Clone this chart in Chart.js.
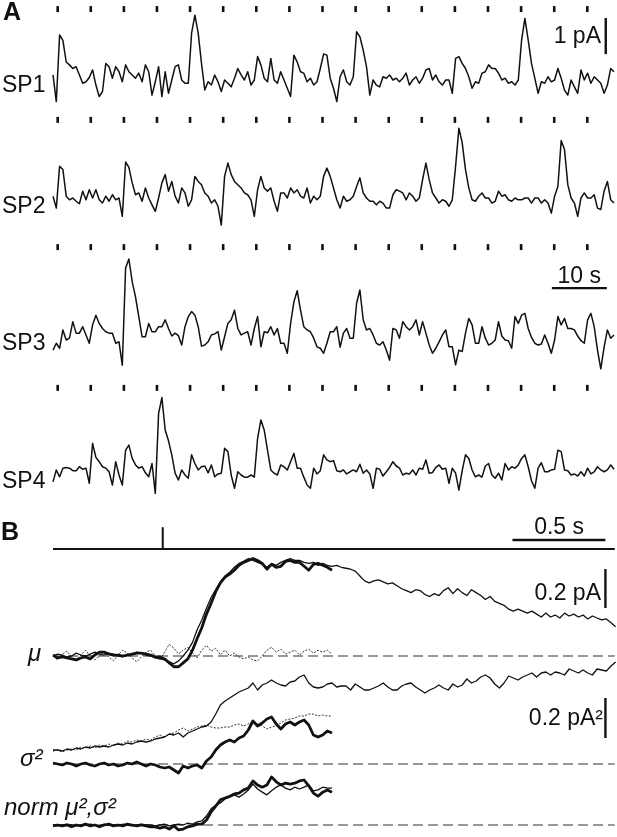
<!DOCTYPE html>
<html>
<head>
<meta charset="utf-8">
<script src="https://cdn.jsdelivr.net/npm/chart.js@4"></script>
<style>
  html, body { margin: 0; padding: 0; background: #fff; }
  #fig { position: relative; width: 617px; height: 837px; overflow: hidden; }
  #fig canvas { position: absolute; left: 0; top: 0; }
  .lbl { position: absolute; font-family: 'Liberation Sans', Arial, sans-serif; font-size: 23px; line-height: 1; color: #111; white-space: nowrap; }
  .panel { font-weight: bold; font-size: 25px; }
  .it { font-style: italic; font-size: 24px; }
</style>
</head>
<body>
<div id="fig">
  <canvas id="traces" width="617" height="837"></canvas>
</div>
<script>
// Panel A: spontaneous currents, sampled every 0.6 s (pA)
const dtA = 0.6;
const sp1 = [
  0.14, -0.6, 1.25, 1.1, 0.5, 0.42, 0.32, 0.37, 0.14, -0.09,
  -0.05, 0.07, 0.28, -0.14, -0.46, -0.32, 0.46, 0.37, 0.05, 0.37,
  0.23, -0.05, 0.42, 0.23, 0.14, 0.05, 0.19, -0.05, 0.42, 0.23,
  -0.42, -0.05, 0.37, -0.46, 0.23, -0.37, 0, 0.37, 0.42, 0,
  -0.09, -0.09, 1.3, 1.8, 1.3, 0.46, -0.28, -0.05, -0.14, 0.14,
  -0.05, -0.32, 0, -0.09, -0.19, 0.05, 0.32, 0.14, 0, 0.23,
  -0.14, 0, 0.65, 0.42, 0.05, -0.05, 0.6, 0, -0.09, 0.23,
  0, -0.23, -0.46, 0.69, 0.5, 0.23, 0.19, -0.05, 0.05, -0.14,
  -0.05, 0.32, 0.72, 0.69, 0.05, -0.23, -0.6, 0.09, 0.28, -0.05,
  -0.14, 0.09, 1.34, 1.2, 0.83, 0.37, -0.42, 0, -0.14, -0.19,
  0.09, 0.05, 0.14, 0, 0.05, -0.05, 0.05, 0.19, -0.14, 0,
  0.09, -0.09, 0.05, 0.28, 0.32, 0, 0.14, -0.05, -0.14, 0,
  0, -0.37, 0.6, 0.65, 0.46, 0.32, 0.09, -0.23, -0.05, -0.09,
  0.19, 0.23, 0.42, 0.32, 0.32, 0.19, 0, 0.05, -0.09, -0.05,
  -0.14, 0, 1.11, 1.71, 1.11, 0.46, 0.05, -0.37, -0.05, -0.09,
  0.09, -0.05, 0, 0.32, 0.05, -0.28, -0.42, 0, -0.19, -0.37,
  0.28, 0, 0.19, -0.09, 0.09, 0, -0.09, -0.37, -0.14, 0.32, 0.23
];
const sp2 = [
  0.05, -0.28, 0.88, 0.79, 0.05, -0.05, 0, -0.09, -0.16, 0.19,
  -0.05, 0.23, 0, 0.23, -0.05, -0.14, 0.05, -0.09, 0.09, -0.05,
  0, -0.51, 1.0, 0.85, 0.42, 0.09, 0.14, -0.09, 0.28, 0,
  -0.19, -0.37, 0, 0.42, 0.65, 0.19, 0.46, 0.05, -0.14, 0.28,
  0.14, -0.23, -0.05, 0.6, 0.46, 0.37, 0.14, 0.05, -0.14, -0.05,
  -0.23, -0.75, 0.6, 0.97, 0.65, 0.46, 0.37, 0.28, 0.14, 0.09,
  -0.05, -0.51, 0.23, 0.6, 0.28, 0.19, 0.28, -0.09, -0.37, 0.14,
  0.14, 0, 0.28, 0.14, 0.23, 0.05, 0, 0.28, -0.14, 0.05,
  -0.05, 0.05, 0.6, 0.83, 0.6, 0.28, -0.05, -0.28, 0.05, -0.09,
  -0.05, 0.05, 0.32, 0.56, 0.14, 0, -0.09, -0.09, -0.19, -0.09,
  -0.14, -0.28, -0.28, 0.09, 0.23, 0.19, 0.14, -0.05, 0.14, 0.05,
  -0.09, 0, 0.51, 0.97, 0.51, 0.14, 0, -0.14, -0.05, -0.09,
  -0.23, -0.05, 0.88, 1.94, 1.53, 0.79, 0.28, -0.05, -0.09, 0.05,
  0.14, 0, 0, -0.14, -0.09, 0.19, 0.05, 0.09, -0.05, -0.09,
  0, -0.05, -0.05, 0, 0, -0.14, 0, 0, -0.14, -0.05,
  -0.14, -0.42, 0.05, 0.32, 1.6, 1.35, 0.37, 0, -0.14, -0.51,
  0, 0.14, 0, 0, 0.09, -0.28, -0.32, 0.19, 0.46, -0.05, -0.14
];
const sp3 = [
  -0.28, -0.09, -0.23, 0.28, 0, 0.05, 0.51, 0.19, 0.19, 0.37,
  0.14, -0.09, 0.42, 0.69, 0.46, 0.32, 0.23, 0.19, 0.19, -0.09,
  -0.05, -0.7, 2.0, 2.25, 1.62, 1.2, 0.65, 0.09, 0.09, 0.46,
  0.23, 0.23, 0.37, 0.37, 0.56, 0.32, 0.11, 0.19, 0.12, -0.14,
  0.37, 0.65, 0.79, 0.69, 0.37, -0.17, -0.14, -0.05, 0.14, 0.17,
  0.23, -0.28, 0.09, 0.46, 0.56, 0.83, 0.32, 0.14, 0.19, 0.23,
  -0.14, 0.32, 0.65, -0.19, 0.23, 0.2, 0.37, 0.14, 0.32, -0.09,
  -0.09, -0.37, 0.46, 1.06, 1.37, 0.83, 0.37, 0.28, 0.23, 0.05,
  -0.19, -0.23, -0.37, -0.09, 0.23, 0.23, 0.37, -0.2, 0.19, 0.32,
  0.05, 0.05, 1.02, 1.39, 0.56, 0.28, 0.32, 0.14, -0.09, -0.14,
  -0.05, -0.28, -0.56, 0.32, 0.28, 0.05, 0.51, 0.37, 0.28, 0.37,
  0.56, 0.14, 0.51, 0.19, -0.14, -0.37, -0.23, -0.05, 0.14, 0.28,
  -0.19, -0.19, -0.69, -0.28, -0.32, 0.19, 0.6, 0.42, -0.09, -0.09,
  0.37, 0.05, -0.14, -0.09, 0, 0.51, 0.11, 0, -0.02, -0.23,
  0.65, 0.46, 0.69, 0.74, 0.32, 0.07, -0.09, -0.14, -0.11, 0.14,
  -0.09, -0.37, 0, 0.65, 0.42, 0.6, 0.32, 0.32, 0.28, 0.11,
  -0.02, -0.09, 0.56, 0.74, 0.37, -0.28, -0.8, -0.2, 0.28, 0.05, 0.14
];
const sp4 = [
  -0.19, 0.14, -0.05, 0.19, 0.21, 0.19, 0.12, 0.12, 0.23, 0.16,
  0.19, -0.23, 0.88, 0.49, 0.37, 0.23, 0.19, 0.09, -0.28, 0.37,
  0, -0.28, 0.69, 0.83, 0.46, 0.28, 0.19, 0.23, 0.06, -0.05,
  0.32, -0.51, 1.71, 2.15, 1.25, 0.95, 0.56, 0.05, -0.14, 0.14,
  0, -0.09, 0.56, 0.32, 0.14, 0.23, 0.25, 0.06, 0.28, -0.05,
  0.03, 0.05, 0.74, 0.65, 0, -0.37, 0.09, 0, -0.06, -0.06,
  0, -0.06, 1.02, 1.53, 1.25, 0.69, 0.14, 0.05, 0, 0.28,
  0.23, 0.14, 0.37, 0.6, 0.19, 0.19, -0.06, -0.28, -0.37, 0.19,
  0.03, 0.12, 0.56, 0.42, 0.37, 0.4, 0.12, 0.09, 0.14, 0.03,
  0.09, 0.14, 0.09, 0.3, 0.05, 0.14, 0.03, -0.37, 0.19, 0.16,
  -0.03, 0.09, 0.21, 0.37, 0.25, 0.19, 0, 0.05, 0.03, 0.14,
  0, 0.19, 0.16, 0.42, 0.05, 0.07, 0.21, 0.28, 0.16, 0.19,
  -0.23, 0.19, 0.05, -0.42, 0.12, 0.56, 0.46, 0.14, -0.05, 0,
  -0.06, 0.25, 0.32, 0, -0.09, 0.05, -0.14, 0.32, 0.14, 0.23,
  0.19, 0.28, 0.46, 0.56, 0.23, -0.16, -0.37, 0.19, 0.34, 0.09,
  0.09, 0.14, 0.16, 0.69, 0.65, 0.14, 0.12, 0, 0.03, -0.03,
  0.09, -0.03, 0.19, 0.03, 0.09, 0.23, 0.14, 0.09, 0.14, 0.28, 0.16
];
// stimulus times (s)
const stimTimesA = [0.85, 6.87, 12.89, 18.9, 24.92, 30.94, 36.96, 42.98, 49, 55.02, 61.04, 67.05, 73.07, 79.09, 85.11, 91.13, 97.15];

// Panel B: averaged responses, sampled every 25 ms
const dtB = 0.025;
const stimOnset = 0.59;
const sweepLen = 3.02;
const muThick = [
  0.005, -0.01, -0.005, -0.01, -0.015, -0.02, -0.01, -0.005, -0.015, 0.005,
  0.02, 0.02, 0.01, 0.005, 0.005, 0, 0.005, 0.01, 0.015, 0.015,
  0.01, 0.005, -0.005, -0.005, -0.015, -0.035, -0.055, -0.055, -0.035, -0.015,
  0.03, 0.09, 0.145, 0.215, 0.27, 0.33, 0.375, 0.405, 0.42, 0.44,
  0.465, 0.48, 0.49, 0.5, 0.49, 0.475, 0.445, 0.47, 0.455, 0.46,
  0.485, 0.49, 0.48, 0.48, 0.46, 0.44, 0.47, 0.475, 0.465, 0.455, 0.44
];
const muLong = [
  0, 0.01, 0.005, -0.005, 0, 0.015, 0.005, 0, 0.01, 0.02,
  0.01, 0.005, 0.015, 0.01, 0, -0.005, 0.005, 0.01, 0.02, 0.015,
  0.005, 0, -0.01, -0.015, -0.02, -0.03, -0.04, -0.025, 0, 0.03,
  0.07, 0.135, 0.185, 0.245, 0.3, 0.34, 0.38, 0.41, 0.43, 0.455,
  0.475, 0.485, 0.5, 0.49, 0.48, 0.47, 0.455, 0.475, 0.465, 0.48,
  0.49, 0.5, 0.49, 0.49, 0.48, 0.475, 0.48, 0.465, 0.475, 0.465,
  0.46, 0.465, 0.455, 0.45, 0.445, 0.435, 0.41, 0.385, 0.375, 0.385,
  0.39, 0.38, 0.37, 0.375, 0.36, 0.345, 0.335, 0.325, 0.34, 0.335,
  0.315, 0.305, 0.32, 0.31, 0.335, 0.35, 0.32, 0.345, 0.325, 0.31,
  0.34, 0.325, 0.31, 0.29, 0.305, 0.28, 0.27, 0.26, 0.24, 0.23,
  0.24, 0.23, 0.22, 0.23, 0.215, 0.2, 0.22, 0.2, 0.21, 0.195,
  0.22, 0.205, 0.215, 0.2, 0.21, 0.19, 0.205, 0.195, 0.185, 0.19, 0.17, 0.15
];
const muDotted = [
  0, -0.02, 0.01, 0.025, -0.005, -0.025, 0.005, 0.03, 0, -0.02,
  0, 0.02, -0.005, -0.025, 0.005, 0.03, 0.015, -0.01, -0.03, -0.005,
  0.02, 0.03, 0, -0.02, 0.02, 0.06, 0.04, 0.01, 0.03, 0.045,
  0.015, -0.01, 0.03, 0.055, 0.025, 0.04, 0.005, 0.03, 0, 0.015,
  -0.005, -0.015, -0.005, -0.02, -0.025, 0, 0.03, 0.045, 0.02, 0.035,
  0.01, 0.02, 0.03, 0.005, 0.025, 0.035, 0.015, 0.03, 0.02, 0.03, 0.01
];
const varLong = [
  0.07, 0.07, 0.065, 0.075, 0.07, 0.08, 0.075, 0.085, 0.08, 0.09,
  0.085, 0.09, 0.085, 0.095, 0.1, 0.095, 0.105, 0.1, 0.11, 0.115,
  0.11, 0.115, 0.125, 0.13, 0.135, 0.15, 0.145, 0.155, 0.135, 0.155,
  0.165, 0.175, 0.185, 0.19, 0.21, 0.25, 0.295, 0.315, 0.33, 0.345,
  0.36, 0.37, 0.38, 0.405, 0.37, 0.395, 0.405, 0.42, 0.405, 0.395,
  0.39, 0.41, 0.415, 0.435, 0.445, 0.405, 0.385, 0.38, 0.385, 0.4,
  0.405, 0.385, 0.39, 0.39, 0.37, 0.4, 0.385, 0.37, 0.37, 0.38,
  0.39, 0.405, 0.385, 0.37, 0.37, 0.39, 0.4, 0.405, 0.385, 0.37,
  0.355, 0.37, 0.38, 0.395, 0.38, 0.37, 0.4, 0.385, 0.395, 0.425,
  0.405, 0.415, 0.435, 0.445, 0.43, 0.4, 0.38, 0.405, 0.44, 0.43,
  0.42, 0.435, 0.445, 0.455, 0.435, 0.455, 0.46, 0.445, 0.46, 0.455,
  0.445, 0.475, 0.465, 0.455, 0.47, 0.455, 0.445, 0.475, 0.47, 0.465, 0.49, 0.51
];
const varDotted = [
  0.065, 0.07, 0.06, 0.07, 0.075, 0.07, 0.085, 0.08, 0.09, 0.08,
  0.095, 0.09, 0.1, 0.09, 0.105, 0.1, 0.115, 0.11, 0.12, 0.115,
  0.125, 0.12, 0.135, 0.145, 0.135, 0.15, 0.155, 0.17, 0.18, 0.165,
  0.175, 0.185, 0.19, 0.195, 0.185, 0.18, 0.18, 0.185, 0.185, 0.195,
  0.2, 0.19, 0.2, 0.21, 0.2, 0.19, 0.175, 0.185, 0.19, 0.205,
  0.22, 0.225, 0.23, 0.24, 0.24, 0.25, 0.25, 0.24, 0.245, 0.24, 0.24
];
const varThick = [
  0.005, 0, -0.005, 0.005, 0, -0.01, 0, 0.005, -0.005, -0.01,
  0, 0.005, -0.005, 0, -0.01, -0.005, 0.005, 0, 0.01, 0,
  -0.01, 0, -0.005, -0.015, -0.02, -0.015, -0.03, -0.045, -0.01, -0.02,
  -0.01, -0.005, -0.02, 0.015, 0.035, 0.07, 0.095, 0.11, 0.12, 0.11,
  0.13, 0.14, 0.17, 0.215, 0.19, 0.205, 0.225, 0.235, 0.2, 0.175,
  0.2, 0.21, 0.195, 0.21, 0.22, 0.195, 0.145, 0.135, 0.145, 0.165, 0.155
];
const normThick = [
  -0.02, 0, -0.02, 0, -0.04, 0, -0.02, 0.02, -0.02, 0,
  -0.04, 0, 0.02, -0.02, 0, -0.02, 0.02, 0, -0.02, 0,
  -0.02, -0.04, -0.04, -0.07, -0.04, -0.09, -0.02, -0.11, -0.09, -0.04,
  -0.02, 0.02, 0.02, 0.11, 0.29, 0.42, 0.56, 0.6, 0.64, 0.69,
  0.71, 0.78, 0.82, 0.98, 0.89, 0.84, 0.89, 1.07, 0.96, 0.89,
  0.93, 0.91, 0.93, 0.98, 1.0, 0.87, 0.71, 0.64, 0.73, 0.78, 0.73
];
const normThin = [
  0, -0.02, 0, 0.02, 0, -0.02, 0, 0, 0.02, 0,
  -0.02, 0.02, 0, 0, -0.02, 0.02, 0, -0.02, 0, 0.02,
  0, 0, -0.02, 0, 0.02, -0.02, 0, 0.02, 0, 0.04,
  0.02, 0.07, 0.09, 0.2, 0.36, 0.44, 0.49, 0.58, 0.62, 0.67,
  0.62, 0.69, 0.78, 0.91, 0.8, 0.73, 0.67, 0.76, 0.84, 0.89,
  0.82, 0.78, 0.84, 0.8, 0.84, 0.89, 0.76, 0.78, 0.84, 0.82, 0.82
];

const W = 617, H = 837;

// value range so that 0 lands at a given pixel
function xRange(startPx, pxPerUnit) {
  return { min: -startPx / pxPerUnit, max: (W - startPx) / pxPerUnit };
}
function yRange(basePx, pxPerUnit) {
  return { min: (basePx - H) / pxPerUnit, max: basePx / pxPerUnit };
}
function axis(dir, range) {
  return Object.assign({ type: 'linear', axis: dir, display: false }, range);
}

function series(values, dt, xID, yID, style) {
  return Object.assign({
    data: values.map((v, i) => ({ x: i * dt, y: v })),
    xAxisID: xID, yAxisID: yID,
    borderColor: '#111', borderWidth: 1.3, pointRadius: 0, tension: 0, fill: false
  }, style);
}
function segment(points, xID, yID, style) {
  return Object.assign({
    data: points, xAxisID: xID, yAxisID: yID,
    borderColor: '#111', borderWidth: 2.4, pointRadius: 0, tension: 0, fill: false
  }, style);
}
function stimTicks(yID, level) {
  return {
    data: stimTimesA.map(t => ({ x: t, y: level })),
    xAxisID: 'xA', yAxisID: yID, showLine: false,
    pointStyle: 'line', rotation: 90, pointRadius: 3, pointBorderWidth: 2.6,
    borderColor: '#111', pointBorderColor: '#111'
  };
}

const baseLine = { borderColor: '#777', borderWidth: 1.5, borderDash: [10, 5] };
const thick = { borderWidth: 2.8 };
const dotted = { borderWidth: 1, borderDash: [2, 1.5], borderColor: '#333' };
const spont = { borderWidth: 1.5 };

const datasets = [
  // panel A
  series(sp1, dtA, 'xA', 'yA1', spont),
  series(sp2, dtA, 'xA', 'yA2', spont),
  series(sp3, dtA, 'xA', 'yA3', spont),
  series(sp4, dtA, 'xA', 'yA4', spont),
  stimTicks('yA1', 1.97),
  stimTicks('yA2', 2.17),
  stimTicks('yA3', 2.58),
  stimTicks('yA4', 2.42),
  segment([{ x: 100.5, y: 0.72 }, { x: 100.5, y: 1.72 }], 'xA', 'yA1'),
  segment([{ x: 90.7, y: 1.44 }, { x: 100.7, y: 1.44 }], 'xA', 'yA3'),
  // panel B
  segment([{ x: 0, y: 0 }, { x: stimOnset, y: 0 }, { x: stimOnset, y: 1 }, { x: stimOnset, y: 0 }, { x: sweepLen, y: 0 }], 'xB', 'yStim', { borderWidth: 2 }),
  segment([{ x: 2.47, y: 0.43 }, { x: 2.97, y: 0.43 }], 'xB', 'yStim'),
  segment([{ x: 2.97, y: 0.246 }, { x: 2.97, y: 0.446 }], 'xB', 'yMu'),
  segment([{ x: 2.97, y: 0.13 }, { x: 2.97, y: 0.33 }], 'xB', 'yVar'),
  series(muThick, dtB, 'xB', 'yMu', thick),
  series(muLong, dtB, 'xB', 'yMu'),
  series(muDotted, dtB, 'xB', 'yMu', dotted),
  series(varThick, dtB, 'xB', 'yVar', thick),
  series(varLong, dtB, 'xB', 'yVar'),
  series(varDotted, dtB, 'xB', 'yVar', dotted),
  series(normThick, dtB, 'xB', 'yNorm', thick),
  series(normThin, dtB, 'xB', 'yNorm'),
  segment([{ x: 0, y: 0 }, { x: sweepLen, y: 0 }], 'xB', 'yMu', baseLine),
  segment([{ x: 0, y: 0 }, { x: sweepLen, y: 0 }], 'xB', 'yVar', baseLine),
  segment([{ x: 0, y: 0 }, { x: sweepLen, y: 0 }], 'xB', 'yNorm', baseLine)
];

new Chart(document.getElementById('traces').getContext('2d'), {
  type: 'line',
  data: { datasets: datasets },
  options: {
    responsive: false,
    animation: false,
    events: [],
    layout: { padding: 0, autoPadding: false },
    plugins: { legend: { display: false }, tooltip: { enabled: false } },
    elements: { line: { borderJoinStyle: 'round', borderCapStyle: 'butt' } },
    scales: {
      xA: axis('x', xRange(53, 5.5)),
      xB: axis('x', xRange(53, 186)),
      yA1: axis('y', yRange(80, 36)),
      yA2: axis('y', yRange(198, 36)),
      yA3: axis('y', yRange(340, 36)),
      yA4: axis('y', yRange(475, 36)),
      yStim: axis('y', yRange(549, 21)),
      yMu: axis('y', yRange(656, 195)),
      yVar: axis('y', yRange(764, 200)),
      yNorm: axis('y', yRange(825, 45))
    }
  }
});

// text labels, placed by baseline
const fig = document.getElementById('fig');
function addLabel(html, x, baseline, cls, alignRight) {
  const el = document.createElement('div');
  el.className = 'lbl ' + (cls || '');
  el.innerHTML = html;
  fig.appendChild(el);
  const size = parseFloat(getComputedStyle(el).fontSize);
  el.style.top = (baseline - 0.8465 * size) + 'px';
  if (alignRight) el.style.right = (W - x) + 'px';
  else el.style.left = x + 'px';
}
addLabel('A', 3, 20, 'panel');
addLabel('SP1', 2, 92);
addLabel('SP2', 2, 213);
addLabel('SP3', 2, 350);
addLabel('SP4', 2, 488);
addLabel('1 pA', 601, 43, '', true);
addLabel('10 s', 601, 283, '', true);
addLabel('B', 1, 540, 'panel');
addLabel('0.5 s', 584, 534, '', true);
addLabel('0.2 pA', 601, 600, '', true);
addLabel('0.2 pA²', 603, 725, '', true);
addLabel('μ', 28, 661, 'it');
addLabel('σ²', 20, 766, 'it');
addLabel('norm μ²,σ²', 4, 815, 'it');
</script>
</body>
</html>
